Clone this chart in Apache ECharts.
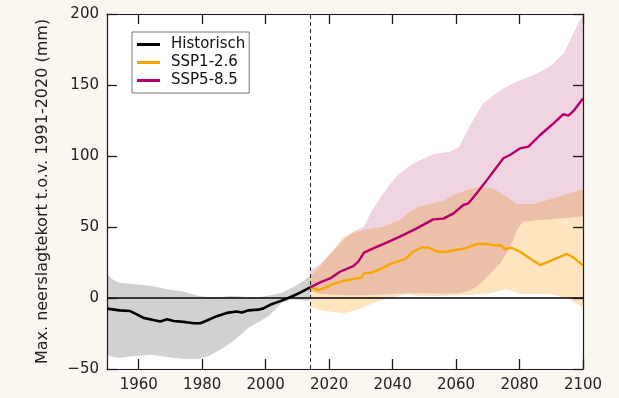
<!DOCTYPE html>
<html>
<head>
<meta charset="utf-8">
<script src="https://cdn.jsdelivr.net/npm/echarts@6/dist/echarts.min.js"></script>
<style>
html,body{margin:0;padding:0;background:#faf6f0;}
#chart{width:619px;height:398px;}
</style>
</head>
<body>
<div id="chart"></div>
<script>
// ---- data ----
const xTicks = [1960, 1980, 2000, 2020, 2040, 2060, 2080, 2100];
const yTicks = [-50, 0, 50, 100, 150, 200];
const legendNames = ['Historisch', 'SSP1-2.6', 'SSP5-8.5'];

const histYears = [1950,1954,1957.3,1959.4,1961.5,1964.6,1966.8,1968.9,1971,1974.1,1977.3,1979.4,1981.5,1984.6,1987.8,1990.9,1992.5,1994.6,1997.7,1999.3,2001.4,2004.6,2007.7,2010.9,2014];
const histMean = [-7.5,-8.7,-9.2,-11.5,-14,-15.5,-16.5,-15,-16.2,-16.8,-17.8,-17.8,-15.8,-12.8,-10.5,-9.5,-10.2,-8.7,-8.2,-7.3,-4.8,-2.2,0.5,3.8,7.5];

const histBandYears = [1950,1952,1954,1958,1964,1969,1974,1979,1982,1986,1989,1992,1995,1998,2001,2003,2005,2008,2011,2014];
const histUpper = [16.5,12.7,10.8,9.9,8.5,6.1,4.5,1.4,0.5,0.7,1.4,1.0,0.5,0.5,1.8,2.6,3.5,6.8,10.8,15.5];
const histLower = [-40,-41.5,-42,-41,-40,-41.5,-43,-42.7,-41,-36,-31.5,-26,-20.2,-16.8,-12.5,-8,-3.5,-0.9,-1.4,-1.9];

const ssp126Years = [2014,2016.6,2019.2,2021.3,2024.5,2027.6,2030,2031,2033.4,2036,2039.2,2042.3,2043.9,2046.5,2049.2,2051.3,2052.8,2054.4,2057.1,2059.7,2061.3,2063.4,2066.5,2069.7,2072.8,2073.9,2075.4,2077.5,2080.2,2083.3,2086.5,2089.6,2094.9,2097,2100];
const ssp126Mean = [7.5,5.6,7.5,9.9,12,13.4,14.3,17.4,17.8,20.2,23.9,26.3,27.2,32.6,35.7,35.5,33.8,32.6,32.6,33.8,34.3,35.4,38,38,36.9,37.3,34.5,35.4,32.6,27.9,23.2,26,31,28.4,23];

const ssp126UpperYears = [2014,2017,2021.3,2024.5,2028.7,2031.8,2037,2042.3,2045.5,2048.6,2052.8,2056,2059.2,2063.4,2067.6,2071.7,2075.9,2079.1,2084.4,2089.6,2094.9,2100];
const ssp126Upper = [15,22,33.8,43.2,46.7,48.4,50.2,54.9,60.8,64.8,66.7,68.5,72.5,76,78.4,77.2,71.4,66.2,66.2,69.5,73.2,76.5];
const ssp126LowerYears = [2014,2017,2021.3,2024.5,2028.7,2031.8,2035,2040.2,2044.5,2048.6,2054.9,2063.4,2069.7,2075.9,2080.2,2089.6,2094.9,2100];
const ssp126Lower = [-6,-8.5,-9.8,-10.8,-8.5,-5.6,-2.6,0.9,2.8,1.4,1.4,2.1,2.8,6.1,2.8,2.8,0,-6.5];

const ssp585Years = [2014,2017,2020.3,2023.4,2027.6,2029.2,2031,2033.9,2038.1,2042.3,2047.6,2052.8,2056,2059.2,2062.3,2063.9,2066.5,2069.7,2074.9,2077,2080.2,2082.8,2086.5,2090.7,2093.8,2095.4,2097,2100];
const ssp585Mean = [7.5,10.8,13.8,18.5,22.5,25.6,31.9,35,39,43.2,49,55.4,55.9,59.6,65.5,66.7,73.7,83,98.4,100.7,105.4,106.6,114.8,123,129.4,128.4,131.7,140.5];

const ssp585UpperYears = [2014,2017,2021,2024.5,2027.5,2031,2033,2036,2039,2042,2046.5,2053,2058,2061,2064.5,2068.5,2074,2079,2084.5,2089.5,2094,2097,2100];
const ssp585Upper = [19.7,23.2,32.6,40.8,46.7,50.2,59.6,70.2,79.6,87.3,94.8,101.4,103,106.6,121.8,137,146.5,152.3,157,162.9,172.3,186.4,199.5];
const ssp585LowerYears = [2014,2017,2021,2026,2031,2036,2041,2046,2051,2056,2061,2064,2066.5,2069.5,2072,2074,2076,2077.5,2079,2081,2084.5,2090,2095,2100];
const ssp585Lower = [5,3,2.5,2,2,2.5,3,3.3,3.3,3,3.3,5,8,14,20,24.5,32,38,47,53.7,54.5,55.4,56.5,57.5];

const splitYear = 2014;

// ---- helpers ----
function pairs(xs, ys) { return xs.map((x, i) => [x, ys[i]]); }

function bandPoints(api, upYears, up, loYears, lo) {
  const pts = [];
  for (let i = 0; i < upYears.length; i++) pts.push(api.coord([upYears[i], up[i]]));
  for (let i = loYears.length - 1; i >= 0; i--) pts.push(api.coord([loYears[i], lo[i]]));
  return pts;
}

// band polygon; optional clip band -> draws only where both bands overlap
function bandSeries(band, fill, z, clipBand) {
  return {
    type: 'custom',
    z: z,
    silent: true,
    data: [[band[0][0], band[1][0]]],
    renderItem: function (params, api) {
      const pts = bandPoints(api, band[0], band[1], band[2], band[3]);
      const cs = params.coordSys;
      let clip;
      if (clipBand) {
        clip = { type: 'polygon', shape: { points: bandPoints(api, clipBand[0], clipBand[1], clipBand[2], clipBand[3]) } };
      } else {
        clip = { type: 'rect', shape: { x: cs.x, y: cs.y, width: cs.width, height: cs.height } };
      }
      return {
        type: 'polygon',
        shape: { points: pts },
        style: { fill: fill, stroke: null },
        clipPath: clip
      };
    }
  };
}

// white plot-area background (fills the coordinate system rectangle)
const plotBackground = {
  type: 'custom', z: 0, silent: true,
  data: [[splitYear, 0]],
  renderItem: function (params) {
    const cs = params.coordSys;
    return { type: 'rect', shape: { x: cs.x, y: cs.y, width: cs.width, height: cs.height }, style: { fill: '#ffffff' } };
  }
};

const histBand = [histBandYears, histUpper, histBandYears, histLower];
const ssp126Band = [ssp126UpperYears, ssp126Upper, ssp126LowerYears, ssp126Lower];
const ssp585Band = [ssp585UpperYears, ssp585Upper, ssp585LowerYears, ssp585Lower];

const fontFam = 'DejaVu Sans';
const axisColor = '#1a1a1a';

function tick(extra) {
  return Object.assign({ show: true, inside: true, length: 10, lineStyle: { color: axisColor, width: 1.3 } }, extra || {});
}
function axLine() {
  return { show: true, onZero: false, lineStyle: { color: axisColor, width: 1.2 } };
}

const chart = echarts.init(document.getElementById('chart'), null, { renderer: 'canvas' });

const option = {
  backgroundColor: '#faf6f0',
  animation: false,
  textStyle: { fontFamily: fontFam },
  grid: { left: 107, right: 36, top: 14, bottom: 29, show: false },
  legend: {
    data: legendNames.map(n => ({ name: n, icon: 'rect' })),
    orient: 'vertical',
    left: 132, top: 32,
    itemWidth: 23, itemHeight: 3,
    itemGap: 3,
    padding: [5, 4, 5, 5],
    borderColor: '#777', borderWidth: 1,
    backgroundColor: '#ffffff',
    textStyle: { fontFamily: fontFam, fontSize: 15, color: '#111', padding: [0, 0, 0, 6] }
  },
  xAxis: [
    {
      type: 'value', min: 1950, max: 2100, position: 'bottom', z: 10,
      axisLine: axLine(),
      axisTick: tick({ customValues: xTicks }),
      axisLabel: { customValues: xTicks, fontSize: 15, color: '#222', margin: 9, fontFamily: fontFam,
        formatter: v => String(v) },
      splitLine: { show: false }
    },
    {
      type: 'value', min: 1950, max: 2100, position: 'top', z: 10,
      axisLine: axLine(),
      axisTick: tick({ customValues: xTicks }),
      axisLabel: { show: false, customValues: xTicks },
      splitLine: { show: false }
    }
  ],
  yAxis: [
    {
      type: 'value', min: -50, max: 200, interval: 50, position: 'left', z: 10,
      name: 'Max. neerslagtekort t.o.v. 1991-2020 (mm)',
      nameLocation: 'middle', nameGap: 56, nameRotate: 90,
      nameTextStyle: { fontSize: 16, color: '#222', fontFamily: fontFam },
      axisLine: axLine(),
      axisTick: tick(),
      axisLabel: { fontSize: 15, color: '#222', margin: 8, fontFamily: fontFam,
        formatter: v => (v < 0 ? '\u2212' + Math.abs(v) : String(v)) },
      splitLine: { show: false }
    },
    {
      type: 'value', min: -50, max: 200, interval: 50, position: 'right', z: 10,
      axisLine: axLine(),
      axisTick: tick(),
      axisLabel: { show: false },
      splitLine: { show: false }
    }
  ],
  series: [
    plotBackground,
    bandSeries(histBand, '#d1d1d1', 1),
    bandSeries(ssp585Band, '#f0d4e2', 2),
    bandSeries(ssp126Band, '#fee5c0', 3),
    bandSeries(ssp126Band, '#ecbfa8', 3.5, ssp585Band),
    {
      type: 'line', name: '_ref', data: [], z: 4, silent: true,
      markLine: {
        silent: true, symbol: 'none', animation: false,
        label: { show: false },
        data: [
          { yAxis: 0, lineStyle: { color: '#000', width: 1.5, type: 'solid' } },
          { xAxis: splitYear, lineStyle: { color: '#222', width: 1, type: [4, 3] } }
        ]
      }
    },
    {
      type: 'line', name: 'Historisch', data: pairs(histYears, histMean), z: 5,
      showSymbol: false, symbol: 'none', smooth: false,
      lineStyle: { color: '#000', width: 2.6 }, itemStyle: { color: '#000' }
    },
    {
      type: 'line', name: 'SSP1-2.6', data: pairs(ssp126Years, ssp126Mean), z: 5,
      showSymbol: false, symbol: 'none',
      lineStyle: { color: '#f7a600', width: 2.4 }, itemStyle: { color: '#f7a600' }
    },
    {
      type: 'line', name: 'SSP5-8.5', data: pairs(ssp585Years, ssp585Mean), z: 6,
      showSymbol: false, symbol: 'none',
      lineStyle: { color: '#b9006a', width: 2.4 }, itemStyle: { color: '#b9006a' }
    }
  ]
};
chart.setOption(option);
</script>
</body>
</html>
